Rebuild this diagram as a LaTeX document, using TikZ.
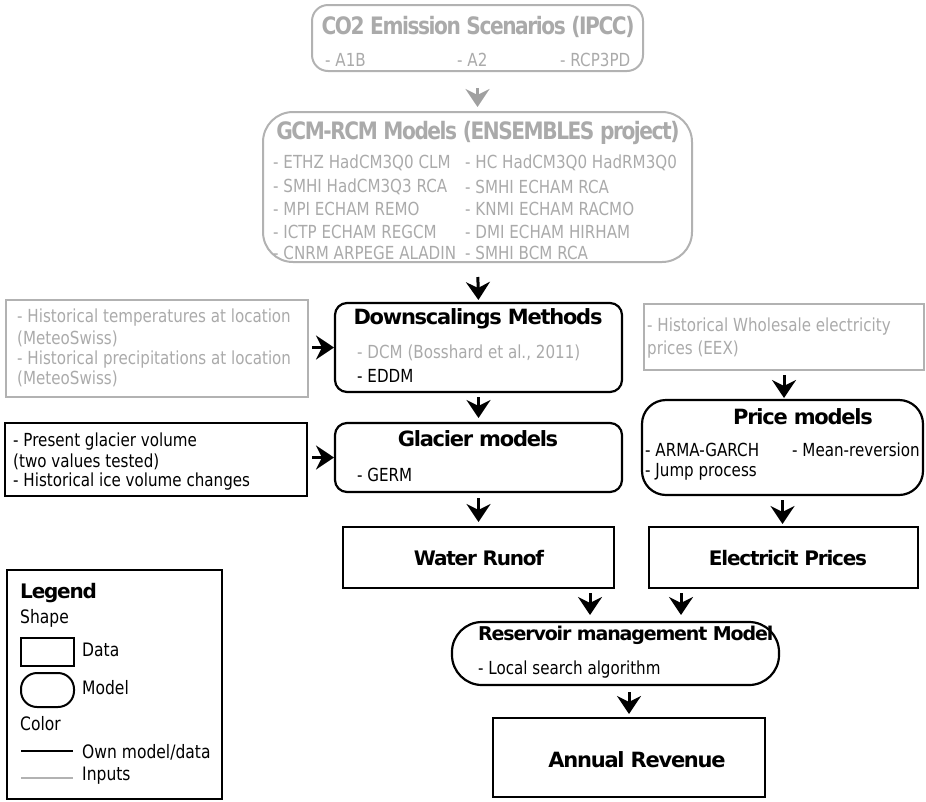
\documentclass[tikz,border=0pt]{standalone}
\usepackage{fontspec}
\setmainfont{DejaVu Sans}[FakeStretch=0.84]
\newfontfamily\tfont{DejaVu Sans}[LetterSpace=-6]
\newfontfamily\gtfont{DejaVu Sans}[LetterSpace=-6, FakeStretch=0.84]
\usetikzlibrary{arrows.meta}
\definecolor{ingray}{RGB}{170,170,170}
\definecolor{inline}{RGB}{178,178,178}
\definecolor{inarrow}{RGB}{160,160,160}
\tikzset{
  box/.style={draw, line width=2.2pt, inner sep=0pt, outer sep=0pt},
  gbox/.style={draw=inline, line width=2pt, inner sep=0pt, outer sep=0pt},
  arr/.style={-{Stealth[length=18pt,width=24pt,inset=6pt]}, line width=3pt},
  txt/.style={inner sep=0pt, anchor=west, font=\fontsize{18}{21}\selectfont},
  gtxt/.style={txt, text=ingray},
  ltxt/.style={txt, font=\fontsize{18.5}{22}\selectfont},
  ttl/.style={inner sep=0pt, font=\tfont\bfseries\fontsize{21}{25}\selectfont},
  gttl/.style={ttl, text=ingray, font=\gtfont\bfseries\fontsize{24}{28}\selectfont},
}
\begin{document}
\begin{tikzpicture}[x=1pt,y=-1pt]
\useasboundingbox (0,0) rectangle (926,801);
% boxes
\node[gbox, rounded corners=16pt, minimum width=331pt, minimum height=66pt] (co2) at (477.5,38) {};
\node[gbox, rounded corners=30pt, minimum width=429pt, minimum height=150pt] (gcm) at (477.5,187) {};
\node[gbox, line width=1.6pt, minimum width=302pt, minimum height=97pt] (hist) at (157,348.5) {};
\node[box, rounded corners=12pt, minimum width=287pt, minimum height=89pt] (down) at (478.5,347.5) {};
\node[gbox, line width=1.6pt, minimum width=280pt, minimum height=66pt] (whole) at (784,337) {};
\node[box, minimum width=302pt, minimum height=73pt] (present) at (156,459.5) {};
\node[box, rounded corners=12pt, minimum width=287pt, minimum height=69pt] (glacier) at (478.5,457.5) {};
\node[box, rounded corners=24pt, minimum width=281pt, minimum height=95pt] (price) at (782.5,447.5) {};
\node[box, minimum width=271pt, minimum height=61pt] (water) at (478.5,557.5) {};
\node[box, minimum width=269pt, minimum height=61pt] (elec) at (783.5,557.5) {};
\node[box, rounded corners=30pt, minimum width=327pt, minimum height=63pt] (res) at (615.5,653.5) {};
\node[box, minimum width=272pt, minimum height=79pt] (annual) at (629,757.5) {};
\node[box, minimum width=215pt, minimum height=229pt] (legend) at (114.5,684.5) {};
% texts: CO2
\node[gttl] (co2t) at (478,27) {CO2 Emission Scenarios (IPCC)};
\node[gtxt] (co2a) at (325,60) {- A1B};
\node[gtxt] (co2b) at (457,60) {- A2};
\node[gtxt] (co2c) at (560,60) {- RCP3PD};
% GCM
\node[gttl] (gcmt) at (478,133) {GCM-RCM Models (ENSEMBLES project)};
\node[gtxt] (g1) at (273,163) {- ETHZ HadCM3Q0 CLM};
\node[gtxt] (g2) at (273,187) {- SMHI HadCM3Q3 RCA};
\node[gtxt] (g3) at (273,209) {- MPI ECHAM REMO};
\node[gtxt] (g4) at (273,232) {- ICTP ECHAM REGCM};
\node[gtxt] (g5) at (273,253) {- CNRM ARPEGE ALADIN};
\node[gtxt] (g6) at (465,163) {- HC HadCM3Q0 HadRM3Q0};
\node[gtxt] (g7) at (465,187) {- SMHI ECHAM RCA};
\node[gtxt] (g8) at (465,209) {- KNMI ECHAM RACMO};
\node[gtxt] (g9) at (465,232) {- DMI ECHAM HIRHAM};
\node[gtxt] (g10) at (465,253) {- SMHI BCM RCA};
% historical
\node[gtxt] (h1) at (17,318) {- Historical temperatures at location};
\node[gtxt] (h2) at (17,339) {(MeteoSwiss)};
\node[gtxt] (h3) at (17,360) {- Historical precipitations at location};
\node[gtxt] (h4) at (17,379) {(MeteoSwiss)};
% downscaling
\node[ttl] (downt) at (478,319) {Downscalings Methods};
\node[gtxt] (d1) at (357,353) {- DCM (Bosshard et al., 2011)};
\node[txt] (d2) at (357,376) {- EDDM};
% glacier
\node[ttl] (glact) at (478,439) {Glacier models};
\node[txt] (gl1) at (357,475) {- GERM};
% present
\node[txt] (p1) at (13,442) {- Present glacier volume};
\node[txt] (p2) at (13,462) {(two values tested)};
\node[txt] (p3) at (13,482) {- Historical ice volume changes};
% wholesale
\node[gtxt] (w1) at (647,327) {- Historical Wholesale electricity};
\node[gtxt] (w2) at (647,350) {prices (EEX)};
% price
\node[ttl] (pricet) at (803,417) {Price models};
\node[txt] (pr1) at (645,450) {- ARMA-GARCH};
\node[txt] (pr2) at (792,450) {- Mean-reversion};
\node[txt] (pr3) at (645,472) {- Jump process};
% outputs
\node[ttl, font=\tfont\bfseries\fontsize{20}{24}\selectfont] (watert) at (479,558) {Water Runof};
\node[ttl, font=\tfont\bfseries\fontsize{20}{24}\selectfont] (elect) at (788,558) {Electricit Prices};
\node[ttl, anchor=west, font=\tfont\bfseries\fontsize{19}{23}\selectfont] (rest) at (478,635) {Reservoir management Model};
\node[txt] (res1) at (478,670) {- Local search algorithm};
\node[ttl] (annualt) at (637,760) {Annual Revenue};
% legend
\node[ttl, anchor=west, font=\tfont\bfseries\fontsize{20}{24}\selectfont] (legt) at (20,593) {Legend};
\node[ltxt] (legs) at (20,618) {Shape};
\node[box, line width=2pt, minimum width=53pt, minimum height=28pt] (legdata) at (47.5,652) {};
\node[ltxt] (legd) at (82,650) {Data};
\node[box, line width=2pt, rounded corners=16pt, minimum width=53pt, minimum height=34pt] (legmodel) at (47.5,690) {};
\node[ltxt] (legm) at (82,688) {Model};
\node[ltxt] (legc) at (20,724) {Color};
\coordinate (lo1) at (21,751);
\coordinate (lo2) at (73,751);
\coordinate (li1) at (21,778);
\coordinate (li2) at (73,778);
\draw[line width=2.4pt] (lo1) -- (lo2);
\draw[line width=2.4pt, draw=inline] (li1) -- (li2);
\node[ltxt] (lego) at (82,752) {Own model/data};
\node[ltxt] (legi) at (82,776) {Inputs};
% arrows
\draw[arr, draw=inarrow, fill=inarrow, shorten <=17pt, shorten >=5pt] (co2.south) -- (gcm.north);
\draw[arr, shorten <=15pt, shorten >=3pt] (gcm.south) -- (down.north);
\draw[arr, shorten <=5pt, shorten >=5pt] (down.south) -- (glacier.north);
\draw[arr, shorten <=6pt, shorten >=5pt] (glacier.south) -- (water.north);
\draw[arr, shorten <=4pt, shorten >=1pt] (hist.east |- down.west) -- (down.west);
\draw[arr, shorten <=5pt, shorten >=1pt] (present.east |- glacier.west) -- (glacier.west);
\draw[arr, shorten <=5pt, shorten >=2pt] (whole.south) -- (whole.south |- price.north);
\draw[arr, shorten <=5pt, shorten >=3pt] (price.south) -- (price.south |- elec.north);
\draw[arr, shorten <=5pt, shorten >=7pt] ([xshift=-24pt]water.south east) -- ([xshift=-24pt]water.south east |- res.north);
\draw[arr, shorten <=5pt, shorten >=7pt] ([xshift=32pt]elec.south west) -- ([xshift=32pt]elec.south west |- res.north);
\draw[arr, shorten <=7pt, shorten >=4pt] (res.south -| annual.north) -- (annual.north);
\end{tikzpicture}
\end{document}
